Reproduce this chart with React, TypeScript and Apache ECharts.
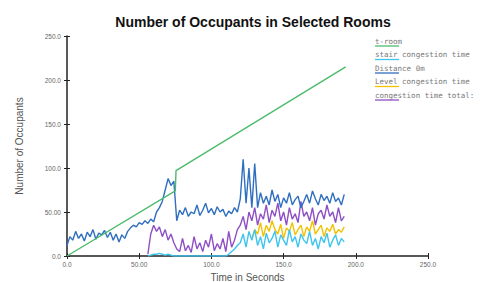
import React, { useEffect, useRef } from "react";
import * as echarts from "echarts";

const seriesNames = [
  "t-room",
  "stair congestion time",
  "Distance 0m",
  "Level congestion time",
  "congestion time total:",
];
const seriesColors = ["#4dbb6e", "#3ec4ee", "#2f6fbf", "#f2c200", "#8f4fc4"];

const greenT = [0, 75, 75.5, 193];
const greenV = [0, 74, 97, 215];

const blueStart = 0;
const blueV = [
  12, 22, 18, 28, 20, 25, 17, 27, 22, 30, 19, 26, 24, 29, 21, 27, 18, 25, 16, 24, 20,
  28, 32, 35, 33, 38, 36, 40, 37, 42, 39,
  50, 55, 62, 75, 88, 80, 85,
  40, 52, 47, 55, 45, 50, 48, 58, 46, 52, 60, 49, 54, 47, 56, 50, 53, 45, 51, 48, 55, 50,
  65, 110, 60, 100, 55, 105,
  55, 72, 60, 68, 58, 75, 62, 70, 55, 66, 60, 72, 58, 64, 68, 55, 62, 70, 60, 74, 65, 58, 70, 63, 68, 60, 72, 62, 66, 58, 70,
];

const purpleStart = 56;
const purpleV = [
  2, 25, 35, 28, 33, 22, 30, 18, 25, 15,
  8, 5, 20, 6, 12, 4, 22, 8, 15, 5, 18, 10, 25, 6, 14, 8, 20, 5, 28, 10, 18, 30,
  35, 45, 30, 50, 40, 55, 35, 48, 42, 58, 38, 52, 45, 60, 40, 50, 35, 55, 42, 48, 38, 62, 45, 50, 40, 55, 35, 48, 52, 42, 58, 45, 50, 38, 55, 40, 45,
];

const cyanStart = 56;
const cyanV = [
  0, 1, 2, 2, 3, 2, 1, 2, 1, 0,
  0, 0, 0, 0, 0, 0, 0, 0, 0, 0, 0, 0, 0, 0, 0, 0, 0, 0, 2, 5,
  8, 12,
  15, 25, 10, 28, 18, 30, 12, 22, 8, 26, 15, 20, 28, 10, 24, 18, 12, 30, 16, 22, 10, 25, 18, 14, 28, 12, 20, 8, 22, 15, 26, 10, 18, 24, 12, 20, 16,
];

const yellowStart = 128;
const yellowV = [
  20, 30, 25, 38, 22, 35, 28, 40, 30, 25, 36, 20, 32, 28, 38, 24, 30, 35, 22, 33, 28, 40, 25, 30, 35, 22, 32, 28, 36, 25, 30, 27, 33,
];

const STEP = 2;
const toPairs = (start: number, vals: number[]) => vals.map((v, i) => [start + i * STEP, v]);

const fmt = (v: number) => (v === 0 ? "0.0" : v < 100 ? v.toFixed(2) : v.toFixed(1));

export default function App() {
  const ref = useRef<HTMLDivElement>(null);
  useEffect(() => {
    if (!ref.current) return;
    const chart = echarts.init(ref.current, null, { renderer: "svg" });
    const axisCommon = {
      type: "value" as const,
      min: 0,
      max: 250,
      interval: 50,
      splitLine: { show: false },
    };
    const legendItems: any[] = [];
    seriesNames.forEach((name, i) => {
      const y = 41 + i * 13.5;
      legendItems.push({
        type: "text",
        left: 375,
        top: y - 4,
        style: { text: name, font: "7.5px 'DejaVu Sans Mono', monospace", fill: "#777" },
      });
      legendItems.push({
        type: "line",
        shape: { x1: 375, y1: y + 5, x2: 399, y2: y + 5 },
        style: { stroke: seriesColors[i], lineWidth: 1.3 },
      });
    });
    const lineStyle = (c: string) => ({ color: c, width: 1.4 });
    const nameStyle = { fontSize: 10, color: "#555", fontFamily: "Liberation Sans, Arial" };
    chart.setOption({
      animation: false,
      title: {
        text: "Number of Occupants in Selected Rooms",
        left: 248,
        textAlign: "center",
        top: 10,
        textStyle: { fontSize: 14, fontWeight: "bold", color: "#111", fontFamily: "Liberation Sans, Arial" },
      },
      grid: { left: 67, right: 58, top: 36, bottom: 26, outerBoundsMode: "none", containLabel: false },
      xAxis: [
        {
          ...axisCommon,
          name: "Time in Seconds",
          nameLocation: "middle",
          nameGap: 14,
          nameTextStyle: nameStyle,
          axisLine: { lineStyle: { color: "#222", width: 1.5 } },
          axisTick: { length: 3, lineStyle: { color: "#222" } },
          axisLabel: { formatter: fmt, fontSize: 6.5, color: "#666", margin: 5, fontFamily: "Liberation Sans, Arial" },
        },
        {
          ...axisCommon,
          position: "bottom",
          axisLine: { show: false },
          axisTick: { inside: true, length: 3, lineStyle: { color: "#222" } },
          axisLabel: { show: false },
        },
      ],
      yAxis: [
        {
          ...axisCommon,
          name: "Number of Occupants",
          nameLocation: "middle",
          nameGap: 43,
          nameTextStyle: nameStyle,
          axisLine: { show: true, lineStyle: { color: "#222", width: 1.5 } },
          axisTick: { show: true, length: 3, lineStyle: { color: "#222" } },
          axisLabel: { formatter: fmt, fontSize: 6.5, color: "#666", margin: 6, fontFamily: "Liberation Sans, Arial" },
        },
        {
          ...axisCommon,
          position: "left",
          axisLine: { show: false },
          axisTick: { show: true, inside: true, length: 3, lineStyle: { color: "#222" } },
          axisLabel: { show: false },
        },
      ],
      graphic: legendItems,
      series: [
        {
          name: seriesNames[0], type: "line", showSymbol: false, symbol: "none",
          data: greenT.map((t, i) => [t, greenV[i]]), lineStyle: lineStyle(seriesColors[0]), z: 5,
        },
        {
          name: seriesNames[3], type: "line", showSymbol: false, symbol: "none",
          data: toPairs(yellowStart, yellowV), lineStyle: lineStyle(seriesColors[3]), z: 2,
        },
        {
          name: seriesNames[4], type: "line", showSymbol: false, symbol: "none",
          data: toPairs(purpleStart, purpleV), lineStyle: lineStyle(seriesColors[4]), z: 3,
        },
        {
          name: seriesNames[1], type: "line", showSymbol: false, symbol: "none",
          data: toPairs(cyanStart, cyanV), lineStyle: lineStyle(seriesColors[1]), z: 2,
        },
        {
          name: seriesNames[2], type: "line", showSymbol: false, symbol: "none",
          data: toPairs(blueStart, blueV), lineStyle: lineStyle(seriesColors[2]), z: 4,
        },
      ],
    });
    return () => chart.dispose();
  }, []);
  return (
    <div
      ref={ref}
      style={{ position: "fixed", left: 0, top: 0, width: 486, height: 282, background: "#fff" }}
    />
  );
}
